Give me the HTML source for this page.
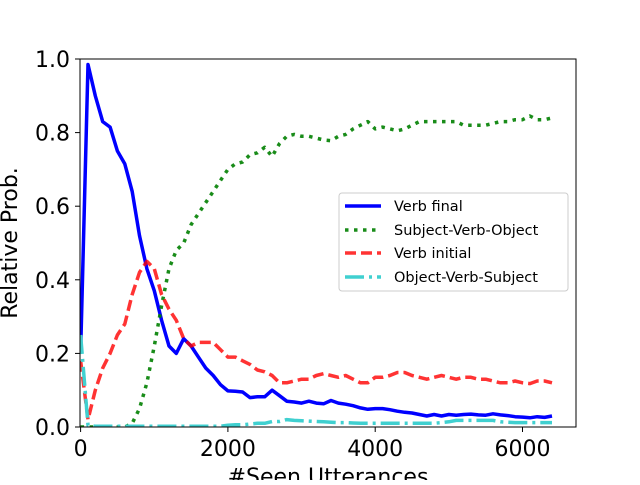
<!DOCTYPE html>
<html><head><meta charset="utf-8"><style>
body{margin:0;background:#fff;width:640px;height:480px;overflow:hidden}
svg text{font-family:"DejaVu Sans","Liberation Sans",sans-serif}
</style></head><body>
<svg id="chart" width="640" height="480" xmlns="http://www.w3.org/2000/svg">
<defs><clipPath id="clip"><rect x="80" y="59" width="496" height="368"/></clipPath></defs>
<g id="series" clip-path="url(#clip)"></g>
<rect x="80" y="59" width="496" height="368" fill="none" stroke="#000" stroke-width="1"/>
<g id="axes"></g>
<text transform="translate(17,243) rotate(-90)" text-anchor="middle" font-size="22">Relative Prob.</text>
<text x="328" y="484" text-anchor="middle" font-size="22">#Seen Utterances</text>
<g>
<rect x="339" y="193" width="229" height="98" rx="3" fill="#fff" fill-opacity="0.8" stroke="#ccc"/>
<line x1="345" y1="206" x2="381" y2="206" stroke="#0000ff" stroke-width="3.5"/>
<text x="394" y="211" font-size="14.5">Verb final</text>
<line x1="345" y1="230" x2="381" y2="230" stroke="#008000" stroke-opacity="0.9" stroke-width="3.5" stroke-dasharray="3.5,5.5"/>
<text x="394" y="235" font-size="14.5">Subject-Verb-Object</text>
<line x1="345" y1="253" x2="381" y2="253" stroke="#ff0000" stroke-opacity="0.8" stroke-width="3.5" stroke-dasharray="11,5"/>
<text x="394" y="258" font-size="14.5">Verb initial</text>
<line x1="345" y1="277" x2="381" y2="277" stroke="#40d0d0" stroke-width="3.5" stroke-dasharray="19,5,3,5"/>
<text x="394" y="282" font-size="14.5">Object-Verb-Subject</text>
</g>
</svg>
<script>
const xValues=[];for(let i=0;i<=64;i++)xValues.push(i*100);
const verbFinal=[0.2,0.985,0.9,0.83,0.815,0.75,0.715,0.64,0.52,0.43,0.37,0.29,0.22,0.2,0.24,0.22,0.19,0.16,0.14,0.115,0.098,0.097,0.095,0.08,0.082,0.082,0.1,0.085,0.07,0.068,0.065,0.07,0.065,0.063,0.072,0.065,0.062,0.058,0.052,0.048,0.05,0.05,0.047,0.043,0.04,0.038,0.034,0.03,0.034,0.03,0.034,0.032,0.034,0.035,0.033,0.032,0.036,0.033,0.031,0.028,0.027,0.025,0.028,0.026,0.03];
const svo=[0,0,0,0,0,0,0,0.01,0.05,0.12,0.22,0.33,0.43,0.48,0.5,0.55,0.58,0.61,0.64,0.67,0.7,0.715,0.72,0.74,0.745,0.76,0.735,0.77,0.79,0.795,0.79,0.79,0.785,0.78,0.778,0.79,0.795,0.81,0.82,0.83,0.81,0.815,0.81,0.805,0.81,0.82,0.83,0.83,0.83,0.83,0.83,0.83,0.82,0.82,0.82,0.82,0.825,0.83,0.83,0.835,0.835,0.845,0.835,0.835,0.84];
const verbInitial=[0.18,0.02,0.1,0.16,0.2,0.25,0.28,0.36,0.42,0.45,0.43,0.36,0.32,0.29,0.24,0.22,0.23,0.23,0.23,0.21,0.19,0.19,0.18,0.17,0.155,0.15,0.14,0.12,0.12,0.125,0.13,0.13,0.14,0.145,0.14,0.135,0.14,0.13,0.12,0.12,0.135,0.135,0.14,0.148,0.148,0.14,0.135,0.13,0.135,0.14,0.135,0.13,0.135,0.135,0.13,0.13,0.125,0.12,0.12,0.125,0.12,0.118,0.125,0.125,0.12];
const ovs=[0.25,0.005,0.002,0.002,0.002,0.002,0.002,0.002,0.002,0.002,0.002,0.002,0.002,0.002,0.002,0.002,0.002,0.002,0.002,0.002,0.005,0.006,0.006,0.008,0.01,0.01,0.015,0.015,0.02,0.018,0.017,0.016,0.015,0.014,0.013,0.012,0.012,0.011,0.01,0.01,0.01,0.01,0.01,0.01,0.01,0.01,0.01,0.01,0.01,0.012,0.014,0.018,0.018,0.018,0.018,0.018,0.018,0.014,0.013,0.012,0.012,0.012,0.012,0.012,0.012];
const xTicks=[0,2000,4000,6000];
const yTicks=[0,0.2,0.4,0.6,0.8,1.0];
const yTickLabels=["0.0","0.2","0.4","0.6","0.8","1.0"];
const X=v=>80.6+v*147.3/2000, Y=v=>427-v*368;
const NS="http://www.w3.org/2000/svg";
const sg=document.getElementById('series'), ag=document.getElementById('axes');
function line(vals,color,op,dash,name){
  const p=document.createElementNS(NS,'polyline');
  p.setAttribute('points',vals.map((v,i)=>X(xValues[i]).toFixed(1)+','+Y(v).toFixed(1)).join(' '));
  p.setAttribute('fill','none');p.setAttribute('stroke',color);p.setAttribute('stroke-opacity',op);
  p.setAttribute('stroke-width','3.5');p.setAttribute('stroke-linejoin','round');
  if(dash)p.setAttribute('stroke-dasharray',dash);
  
  
  sg.appendChild(p);
}
line(verbFinal,'#0000ff',1,null,'verb-final-line');
line(svo,'#008000',0.9,'3.5,5.5','svo-line');
line(verbInitial,'#ff0000',0.8,'11,5','verb-initial-line');
line(ovs,'#40d0d0',1,'19,5,3,5','ovs-line');
xTicks.forEach(t=>{
  const l=document.createElementNS(NS,'line');
  l.setAttribute('x1',X(t));l.setAttribute('x2',X(t));l.setAttribute('y1',427);l.setAttribute('y2',432);l.setAttribute('stroke','#000');
  
  
  ag.appendChild(l);
  const tx=document.createElementNS(NS,'text');
  tx.setAttribute('x',X(t));tx.setAttribute('y',456);tx.setAttribute('text-anchor','middle');tx.setAttribute('font-size','22');
  tx.textContent=t;
  
  
  ag.appendChild(tx);
});
yTicks.forEach((t,i)=>{
  const l=document.createElementNS(NS,'line');
  l.setAttribute('x1',75);l.setAttribute('x2',80);l.setAttribute('y1',Y(t));l.setAttribute('y2',Y(t));l.setAttribute('stroke','#000');
  
  
  ag.appendChild(l);
  const tx=document.createElementNS(NS,'text');
  tx.setAttribute('x',70);tx.setAttribute('y',Y(t)+8);tx.setAttribute('text-anchor','end');tx.setAttribute('font-size','22');
  tx.textContent=yTickLabels[i];
  
  
  ag.appendChild(tx);
});
</script>
</body></html>
